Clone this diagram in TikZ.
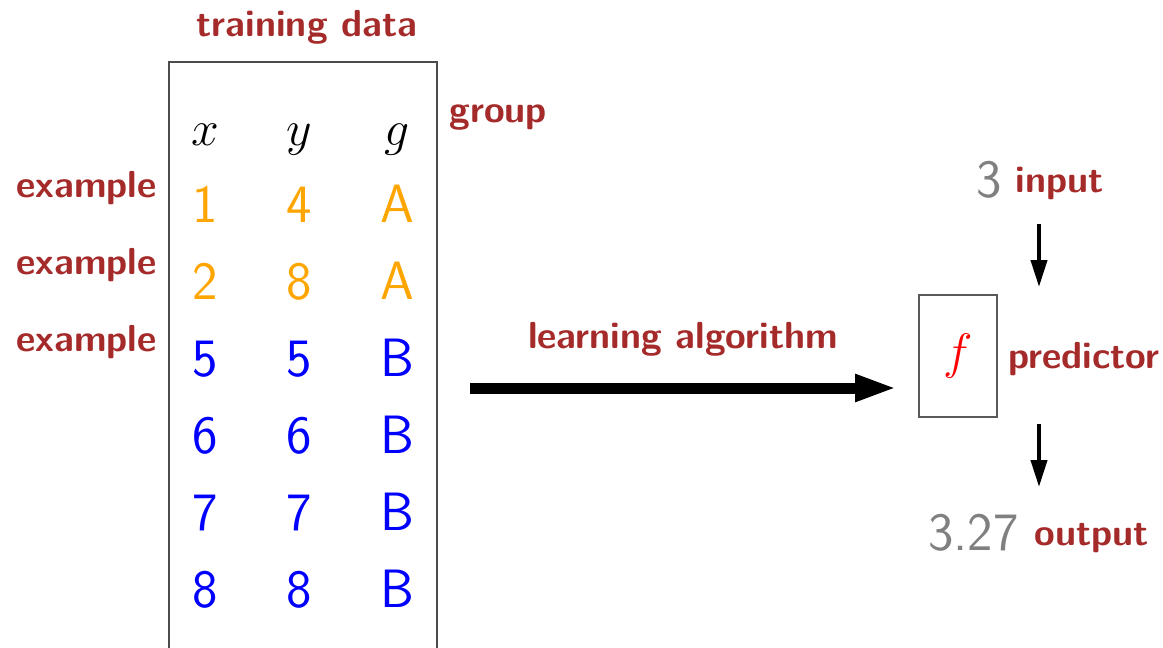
\documentclass[tikz,border=0pt]{standalone}
\usetikzlibrary{arrows.meta}
\definecolor{labelred}{RGB}{165,42,42}
\definecolor{numorange}{RGB}{255,165,0}
\definecolor{numgray}{RGB}{128,128,128}
\tikzset{
  lbl/.style={font=\fontsize{18.8}{22}\selectfont\sffamily\bfseries, text=labelred, inner sep=0pt, anchor=base},
  num/.style={font=\fontsize{27}{30}\selectfont\sffamily, inner sep=0pt, anchor=base},
  orow/.style={num, text=numorange},
  brow/.style={num, text=blue},
  head/.style={font=\fontsize{25.6}{28}\selectfont, inner sep=0pt, anchor=base},
  frame/.style={draw=black!70, line width=0.6pt, inner sep=0pt},
  bigarrow/.style={line width=5.5pt, -{Triangle[length=21pt,width=12.5pt]}},
  smallarrow/.style={line width=2pt, -{Triangle[length=13.5pt,width=8pt]}}
}
\begin{document}
\begin{tikzpicture}[x=0.5pt,y=-0.5pt]
\useasboundingbox (0,0) rectangle (1163,648);
\clip (0,0) rectangle (1163,648);

% training data table
\node[lbl] (title) at (307,36) {training data};
\node[frame, minimum width=134pt, minimum height=319pt] (tab) at (303,381) {};
\node[lbl, anchor=base west] (group) at (449,122) {group};

\node[head] (hx) at (205,145) {$x$};
\node[head] (hy) at (299,145) {$y$};
\node[head] (hg) at (397,145) {$g$};

\node[orow] (x1) at (205,222) {1};
\node[orow] (y1) at (299,222) {4};
\node[orow] (g1) at (397,222) {A};
\node[orow] (x2) at (205,299) {2};
\node[orow] (y2) at (299,299) {8};
\node[orow] (g2) at (397,299) {A};
\node[brow] (x3) at (205,376) {5};
\node[brow] (y3) at (299,376) {5};
\node[brow] (g3) at (397,376) {B};
\node[brow] (x4) at (205,453) {6};
\node[brow] (y4) at (299,453) {6};
\node[brow] (g4) at (397,453) {B};
\node[brow] (x5) at (205,530) {7};
\node[brow] (y5) at (299,530) {7};
\node[brow] (g5) at (397,530) {B};
\node[brow] (x6) at (205,607) {8};
\node[brow] (y6) at (299,607) {8};
\node[brow] (g6) at (397,607) {B};

\node[lbl, anchor=base east] (ex1) at (157,197) {example};
\node[lbl, anchor=base east] (ex2) at (157,274) {example};
\node[lbl, anchor=base east] (ex3) at (157,351) {example};

% learning algorithm
\node[lbl] (alg) at (683,348) {learning algorithm};
\coordinate (algA) at (470,388);
\coordinate (algB) at (897,388);
\draw[bigarrow] (algA) -- (algB);

% predictor
\node[frame, draw=black!65, minimum width=39pt, minimum height=61pt] (fbox) at (958,356) {};
\node[font=\fontsize{28}{30}\selectfont, text=red, inner sep=0pt] (fsym) at (fbox.center) {$f$};
\node[lbl, anchor=base west] (pred) at (1008,368) {predictor};

% input and output
\node[num, text=numgray] (inval) at (989,197) {3};
\node[lbl, anchor=base west] (inlbl) at (1015,192) {input};
\coordinate (inA) at (1039,224);
\coordinate (inB) at (1039,287);
\draw[smallarrow] (inA) -- (inB);

\coordinate (outA) at (1039,424);
\coordinate (outB) at (1039,487);
\draw[smallarrow] (outA) -- (outB);
\node[num, text=numgray, anchor=base west] (outval) at (928,550) {3.27};
\node[lbl, anchor=base west] (outlbl) at (1034,545) {output};
\end{tikzpicture}
\end{document}
